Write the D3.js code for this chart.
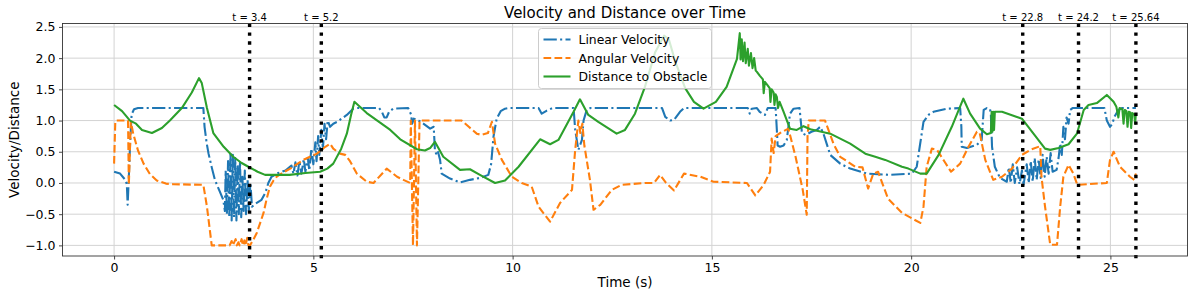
<!DOCTYPE html>
<html>
<head>
<meta charset="utf-8">
<script src="https://cdn.jsdelivr.net/npm/d3@7/dist/d3.min.js"></script>
<style>
  html, body { margin: 0; padding: 0; background: #fff; }
  svg { display: block; font-family: "DejaVu Sans", sans-serif; }
</style>
</head>
<body>
<svg id="chart" width="1196" height="296"></svg>
<script>
// ---------- data (time s, value) ----------
const xTicks = [0, 5, 10, 15, 20, 25];
const yTicks = [-1.0, -0.5, 0.0, 0.5, 1.0, 1.5, 2.0, 2.5];
const eventTimes = [3.4, 5.2, 22.8, 24.2, 25.64];
const eventLabels = ["t = 3.4", "t = 5.2", "t = 22.8", "t = 24.2", "t = 25.64"];
const seriesNames = ["Linear Velocity", "Angular Velocity", "Distance to Obstacle"];

const linearVelocity = [
  [0,0.18],[0.15,0.15],[0.28,0.05],[0.32,-0.02],[0.34,-0.35],[0.37,0.1],[0.4,0.6],[0.44,1.1],[0.5,1.18],[0.6,1.2],
  [2.24,1.2],[2.27,0.9],[2.32,0.65],[2.37,0.47],[2.45,0.25],[2.53,0.05],[2.64,-0.12],[2.74,-0.27],
  [2.78,-0.45],[2.8,0.2],[2.83,-0.5],[2.86,0.35],[2.89,-0.55],[2.92,0.5],[2.95,-0.6],[2.98,0.45],[3.01,-0.55],
  [3.04,0.4],[3.07,-0.6],[3.1,0.3],[3.13,-0.5],[3.16,0.35],[3.19,-0.55],[3.22,0.1],[3.25,-0.45],[3.28,0.2],
  [3.31,-0.5],[3.35,0.05],[3.38,-0.45],[3.42,0.0],[3.46,-0.38],[3.55,-0.33],[3.7,-0.27],[3.8,-0.15],[3.87,0.0],
  [3.95,0.1],[4.12,0.16],[4.3,0.2],[4.45,0.28],
  [4.5,0.15],[4.55,0.33],[4.6,0.12],[4.65,0.35],[4.7,0.15],[4.76,0.38],[4.8,0.18],[4.86,0.4],[4.9,0.2],
  [4.95,0.55],[5.0,0.3],[5.05,0.65],[5.08,0.35],[5.12,0.75],[5.15,0.45],[5.2,0.85],[5.24,0.55],[5.28,0.95],
  [5.32,0.7],[5.36,1.0],[5.42,0.9],[5.5,0.95],[5.6,0.98],[5.84,1.09],[6.0,1.19],[6.1,1.2],[6.65,1.2],
  [6.72,1.14],[6.78,1.05],[6.84,1.05],[6.9,1.14],[7.0,1.19],[7.38,1.2],[7.45,1.1],[7.48,0.95],[7.52,1.03],
  [7.64,1.0],[7.76,0.95],[7.93,0.87],[8.02,0.9],[8.05,0.53],[8.08,0.47],[8.12,0.52],[8.18,0.37],[8.22,0.15],
  [8.43,0.07],[8.68,0.01],[8.93,0.05],[9.18,0.08],[9.39,0.13],[9.46,0.3],[9.52,0.74],[9.6,1.03],[9.7,1.15],
  [9.81,1.19],[9.9,1.2],[10.65,1.2],[10.73,1.11],[10.86,1.16],[11.0,1.2],[11.53,1.2],[11.57,0.85],[11.65,0.53],
  [11.74,0.69],[11.78,1.0],[11.86,1.17],[11.95,1.2],[13.75,1.2],[13.83,1.06],[13.95,1.0],[14.05,1.01],
  [14.2,1.14],[14.3,1.2],[15.9,1.2],[15.95,1.11],[16.0,1.19],[16.13,1.2],[16.2,1.14],[16.33,1.09],[16.4,1.2],
  [16.6,1.2],[16.63,0.85],[16.65,0.6],[16.71,0.58],[16.8,0.6],[16.88,0.69],[16.96,1.11],[17.05,1.19],[17.2,1.2],
  [17.26,0.8],[17.35,0.77],[17.5,0.82],[17.63,0.85],[17.72,0.9],[17.8,0.79],[17.97,0.45],[18.22,0.31],
  [18.47,0.23],[18.89,0.15],[19.47,0.13],[20.02,0.15],[20.14,0.26],[20.22,0.6],[20.31,0.98],[20.45,1.1],
  [20.56,1.14],[20.9,1.19],[21.23,1.2],[21.26,0.9],[21.27,0.58],[21.4,0.56],[21.65,0.61],[21.77,0.69],
  [21.82,1.17],[21.9,1.2],[21.98,1.18],[22.0,1.1],[22.03,0.58],[22.1,0.26],[22.23,0.08],[22.4,0.02],
  [22.45,0.25],[22.5,0.0],[22.55,0.3],[22.6,0.0],[22.66,0.25],[22.72,-0.02],[22.78,0.2],[22.82,-0.03],
  [22.9,0.3],[22.95,0.0],[23.0,0.35],[23.05,0.02],[23.1,0.4],[23.15,0.05],[23.2,0.38],[23.25,0.08],[23.3,0.45],
  [23.35,0.1],[23.4,0.42],[23.45,0.15],[23.5,0.48],[23.55,0.18],[23.65,0.21],[23.7,0.4],[23.74,0.63],
  [23.78,0.45],[23.82,0.9],[23.86,0.7],[23.9,1.05],[23.95,0.95],[23.99,1.17],[24.05,1.2],[24.85,1.2],
  [24.91,1.0],[24.99,0.9],[25.05,0.95],[25.1,1.06],[25.2,1.17],[25.3,1.2],[25.64,1.2]
];

const angularVelocity = [
  [0,0.31],[0.03,0.98],[0.05,1.0],[0.35,1.0],[0.37,-0.03],[0.42,0.98],[0.48,0.79],[0.6,0.52],[0.74,0.31],
  [0.9,0.14],[1.07,0.04],[1.3,-0.01],[1.49,-0.02],[2.24,-0.03],[2.33,-0.38],[2.45,-1.0],[2.9,-1.0],
  [2.95,-0.93],[2.98,-1.0],[3.05,-0.9],[3.08,-1.0],[3.12,-0.95],[3.15,-1.0],[3.2,-0.9],[3.23,-1.0],
  [3.27,-0.92],[3.3,-1.0],[3.34,-0.88],[3.37,-1.0],[3.41,-1.0],[3.5,-0.9],[3.58,-0.8],[3.66,-0.65],
  [3.75,-0.48],[3.83,-0.25],[3.91,-0.06],[4.0,0.04],[4.08,0.1],[4.25,0.17],[4.42,0.23],[4.75,0.37],
  [5.09,0.47],[5.3,0.58],[5.42,0.63],[5.5,0.55],[5.67,0.47],[5.8,0.45],[5.92,0.35],[6.09,0.15],[6.34,0.02],
  [6.51,0.0],[6.84,0.23],[7.1,0.1],[7.26,0.05],[7.43,0.0],[7.445,1.0],[7.5,-1.0],[7.55,1.0],[7.6,-1.0],
  [7.665,1.0],[8.72,1.0],[8.9,0.9],[9.1,0.79],[9.22,0.77],[9.38,0.8],[9.48,0.98],[9.56,0.63],[9.73,0.37],
  [9.98,0.1],[10.23,0.0],[10.48,-0.06],[10.65,-0.38],[10.94,-0.62],[11.19,-0.32],[11.49,-0.11],[11.57,0.53],
  [11.65,1.0],[11.7,0.8],[11.75,0.95],[11.8,0.6],[11.94,0.05],[12.03,-0.43],[12.2,-0.35],[12.49,-0.11],
  [12.74,-0.03],[13.32,0.0],[13.55,0.0],[13.7,0.13],[13.85,0.0],[14.05,-0.12],[14.3,0.15],[14.71,0.1],
  [15.04,0.02],[15.88,0.0],[16.09,-0.2],[16.3,-0.03],[16.46,0.18],[16.5,0.71],[16.55,0.48],[16.6,0.75],
  [16.71,0.8],[16.92,0.87],[17.1,0.42],[17.28,-0.11],[17.38,-0.51],[17.4,0.74],[17.43,1.0],[17.84,1.0],
  [18.05,0.63],[18.22,0.42],[18.6,0.26],[18.78,0.25],[18.92,-0.09],[19.05,0.15],[19.17,0.18],[19.42,-0.25],
  [19.77,-0.48],[20.23,-0.64],[20.31,-0.38],[20.39,0.26],[20.52,0.55],[20.65,0.53],[20.84,0.34],[21.0,0.18],
  [21.23,0.31],[21.44,0.58],[21.65,0.82],[21.72,0.8],[21.86,0.37],[22.06,0.05],[22.28,0.1],[22.53,0.23],
  [22.78,0.45],[22.99,0.53],[23.24,0.59],[23.27,0.1],[23.36,-0.38],[23.45,-0.8],[23.49,-0.99],[23.66,-0.99],
  [23.74,-0.38],[23.82,0.1],[23.95,0.29],[24.07,0.15],[24.17,-0.03],[24.91,0.0],[24.99,0.37],[25.08,0.5],
  [25.24,0.26],[25.49,0.1],[25.6,0.05],[25.64,0.15]
];

const distanceToObstacle = [
  [0,1.25],[0.2,1.15],[0.4,1.0],[0.55,0.95],[0.7,0.85],[0.95,0.8],[1.2,0.88],[1.4,1.0],[1.7,1.2],[1.95,1.45],
  [2.13,1.68],[2.2,1.6],[2.33,1.2],[2.49,0.8],[2.75,0.58],[2.99,0.42],[3.2,0.32],[3.37,0.26],[3.6,0.18],
  [3.79,0.13],[4.4,0.13],[4.8,0.16],[5.17,0.18],[5.35,0.23],[5.5,0.31],[5.7,0.55],[5.84,0.79],[5.95,1.1],
  [6.03,1.3],[6.34,1.12],[6.93,0.85],[7.18,0.7],[7.6,0.54],[7.8,0.52],[7.93,0.56],[8.05,0.66],[8.26,0.42],
  [8.68,0.21],[8.93,0.22],[9.18,0.13],[9.56,0.0],[9.81,0.04],[10.15,0.26],[10.69,0.7],[10.94,0.62],
  [11.15,0.69],[11.53,1.14],[11.69,1.34],[11.9,1.09],[12.15,0.98],[12.61,0.79],[12.82,0.85],[13.07,1.11],
  [13.32,1.54],[13.58,2.1],[13.8,2.36],[13.92,2.3],[14.08,1.95],[14.33,1.52],[14.55,1.3],[14.79,1.19],
  [15.1,1.3],[15.37,1.54],[15.63,1.99],[15.7,2.4],
  [15.72,1.98],[15.75,2.3],[15.78,1.95],[15.82,2.25],[15.85,1.92],[15.9,2.15],[15.93,1.88],[15.98,2.08],
  [16.02,1.84],[16.06,2.0],[16.1,1.8],[16.13,1.78],[16.2,1.72],[16.28,1.66],[16.3,1.44],[16.33,1.62],
  [16.38,1.58],[16.45,1.52],[16.47,1.3],[16.5,1.5],[16.55,1.45],[16.57,1.25],[16.6,1.42],[16.63,1.38],
  [16.66,1.2],[16.7,1.3],[16.8,1.14],[16.96,0.87],[17.13,0.85],[17.3,0.91],[17.47,0.86],[17.97,0.79],
  [18.47,0.63],[18.85,0.47],[19.1,0.42],[19.35,0.37],[19.77,0.26],[19.93,0.23],[20.23,0.15],[20.39,0.15],
  [20.69,0.45],[21.02,0.9],[21.31,1.35],[21.48,1.11],[21.73,0.87],[21.9,0.78],[22.0,0.8],[22.02,1.14],
  [22.04,0.82],[22.06,1.14],[22.08,0.85],[22.1,1.14],[22.28,1.14],[22.78,1.03],[23.07,0.79],[23.36,0.55],
  [23.49,0.53],[23.7,0.56],[23.95,0.62],[24.16,0.79],[24.33,1.17],[24.45,1.25],[24.66,1.28],[24.91,1.41],
  [25.08,1.3],[25.15,1.22],[25.2,1.05],[25.23,1.2],[25.3,1.18],[25.33,0.95],[25.36,1.17],[25.4,1.15],
  [25.43,0.9],[25.46,1.14],[25.5,1.13],[25.52,0.88],[25.55,1.12],[25.6,1.1],[25.62,0.95],[25.64,1.12]
];

// ---------- layout ----------
const pL = 62.5, pR = 1187.5, pT = 23.5, pB = 256;
const svg = d3.select("#chart");

const x = d3.scaleLinear().domain([-1.282, 26.922]).range([63, 1187]);
const y = d3.scaleLinear().domain([-1.17, 2.563]).range([256, 23]);

const fmtY = v => (v < 0 ? "\u2212" : "") + Math.abs(v).toFixed(1);

// grid
const grid = svg.append("g");
grid.selectAll("line.gx").data(xTicks).enter().append("line")
  .attr("x1", d => x(d)).attr("x2", d => x(d)).attr("y1", pT).attr("y2", pB)
  .attr("stroke", "#d3d3d3").attr("stroke-width", 1);
grid.selectAll("line.gy").data(yTicks).enter().append("line")
  .attr("x1", pL).attr("x2", pR).attr("y1", d => y(d)).attr("y2", d => y(d))
  .attr("stroke", "#d3d3d3").attr("stroke-width", 1);

// axes
const xAxis = d3.axisBottom(x).tickValues(xTicks).tickSize(3.5).tickPadding(4).tickFormat(d3.format("d"));
const yAxis = d3.axisLeft(y).tickValues(yTicks).tickSize(3.5).tickPadding(3.5).tickFormat(fmtY);
const gx = svg.append("g").attr("transform", `translate(0,${pB})`).call(xAxis);
const gy = svg.append("g").attr("transform", `translate(${pL},0)`).call(yAxis);
[gx, gy].forEach(g => {
  g.select(".domain").remove();
  g.selectAll(".tick line").attr("stroke", "#333").attr("stroke-width", 0.9);
  g.selectAll(".tick text").attr("fill", "#000").style("font-size", "12.5px").style("font-family", "DejaVu Sans");
});

// clip
svg.append("clipPath").attr("id", "clip").append("rect")
  .attr("x", pL).attr("y", pT).attr("width", pR - pL).attr("height", pB - pT);

const line = d3.line().x(d => x(d[0])).y(d => y(d[1]));
const plot = svg.append("g").attr("clip-path", "url(#clip)");

const styles = [
  { data: linearVelocity, color: "#1f77b4", dash: "13.3,3.3,2.1,3.3" },
  { data: angularVelocity, color: "#ff7f0e", dash: "7.7,3.3" },
  { data: distanceToObstacle, color: "#2ca02c", dash: null }
];
styles.forEach(s => {
  plot.append("path").datum(s.data).attr("d", line)
    .attr("fill", "none").attr("stroke", s.color).attr("stroke-width", 2.1)
    .attr("stroke-linejoin", "round")
    .attr("stroke-dasharray", s.dash);
});

// event lines
svg.append("g").selectAll("line").data(eventTimes).enter().append("line")
  .attr("x1", d => x(d)).attr("x2", d => x(d)).attr("y1", pT).attr("y2", pB + 4)
  .attr("stroke", "#000").attr("stroke-width", 3.4).attr("stroke-dasharray", "3.4,5.5");
svg.append("g").selectAll("text").data(eventTimes).enter().append("text")
  .attr("x", d => x(d)).attr("y", 20.5).attr("text-anchor", "middle")
  .style("font-size", "10px").attr("fill", "#000")
  .text((d, i) => eventLabels[i]);

// frame
svg.append("rect").attr("x", pL).attr("y", pT).attr("width", pR - pL).attr("height", pB - pT)
  .attr("fill", "none").attr("stroke", "#333").attr("stroke-width", 0.9);

// title & labels
svg.append("text").attr("x", (pL + pR) / 2).attr("y", 18).attr("text-anchor", "middle")
  .style("font-size", "15px").text("Velocity and Distance over Time");
svg.append("text").attr("x", (pL + pR) / 2).attr("y", 287).attr("text-anchor", "middle")
  .style("font-size", "13.5px").text("Time (s)");
svg.append("text").attr("transform", `translate(19,${(pT + pB) / 2}) rotate(-90)`)
  .attr("text-anchor", "middle").style("font-size", "13.5px").text("Velocity/Distance");

// legend
const lg = svg.append("g");
lg.append("rect").attr("x", 538.5).attr("y", 28.5).attr("width", 173).attr("height", 60).attr("rx", 3)
  .attr("fill", "#fff").attr("fill-opacity", 0.8).attr("stroke", "#cccccc").attr("stroke-width", 1);
const rowsY = [39.5, 58, 76.5];
styles.forEach((s, i) => {
  lg.append("line").attr("x1", 543.5).attr("x2", 570.5).attr("y1", rowsY[i]).attr("y2", rowsY[i])
    .attr("stroke", s.color).attr("stroke-width", 2.1).attr("stroke-dasharray", s.dash);
  lg.append("text").attr("x", 578.5).attr("y", rowsY[i] + 4.5).style("font-size", "12.4px")
    .text(seriesNames[i]);
});
</script>
</body>
</html>
